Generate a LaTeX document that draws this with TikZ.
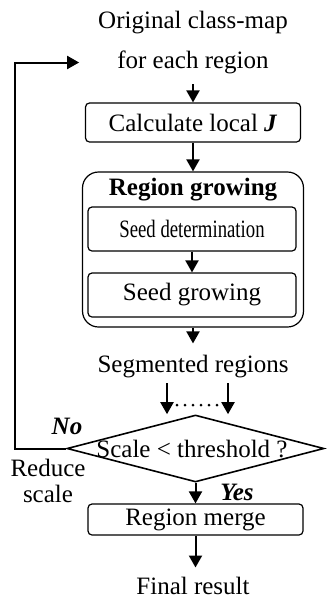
\documentclass[tikz,border=0pt]{standalone}
\usepackage{fontspec}
\setmainfont{Liberation Serif}
\usepackage{graphicx}
\usetikzlibrary{arrows.meta,positioning,shapes.geometric}

\begin{document}
\begin{tikzpicture}[
  x=1pt,y=-1pt,
  every node/.style={font=\fontsize{25}{23}\selectfont,align=center,inner sep=0pt},
  box/.style={draw,rounded corners=4pt,line width=1.2pt,minimum width=215pt,minimum height=39pt},
  group/.style={draw,rounded corners=16pt,line width=1.2pt,minimum width=221pt,minimum height=155pt},
  decision/.style={draw,diamond,line width=1.6pt,minimum width=257pt,minimum height=67pt},
  answer/.style={font=\fontsize{25}{23}\selectfont\bfseries\itshape},
  arrow/.style={-{Triangle[length=12pt,width=13pt]},line width=2pt},
  dots/.style={line width=3pt,line cap=round,dash pattern=on 0pt off 8pt}
]
\useasboundingbox (0,0) rectangle (327,598);
\node (orig) at (193,23) {Original class-map};
\node (each) at (193,62.5) {for each region};
\node[box] (calc) at (193,122.5) {Calculate local \textbf{\textit{J}}};
\node[group] (grow) at (193,249.5) {};
\node[font=\fontsize{25}{23}\selectfont\bfseries] (growtitle) at (193,190) {Region growing};
\node[box,minimum width=208pt,minimum height=44pt] (seed) at (192,229) {\scalebox{0.75}[1]{Seed determination}};
\node[box,minimum width=208pt,minimum height=44pt] (seedgrow) at (192,295) {Seed growing};
\node (seg) at (193,367) {Segmented regions};
\node[decision] (test) at (195.5,448.5) {};
\node (testtext) at (192,449) {Scale < threshold ?};
\node[answer] (no) at (67,426) {No};
\node (reduce) at (48,481) {Reduce\\[3pt]scale};
\node[answer] (yes) at (237,492) {Yes};
\node[box,minimum height=31pt] (merge) at (195.5,519.5) {Region merge};
\node (final) at (193,585.5) {Final result};
\coordinate[left=38pt of each] (back);
\coordinate (b1) at (167,383);
\coordinate (b2) at (228,383);
% main flow
\draw[arrow,shorten <=10pt] (each) -- (calc);
\draw[arrow] (calc) -- (grow);
\draw[arrow] (seed) -- (seedgrow);
\draw[arrow,shorten >=12pt] (grow) -- (seg);
\draw[arrow] (b1) -- (b1 |- test.north);
\draw[arrow] (b2) -- (b2 |- test.north);
\draw[dots] (177,405) -- (219,405);
\draw[arrow] (test) -- (merge);
\draw[arrow,shorten >=9pt] (merge.south) -- (merge.south |- final.north);
% loop back
\draw[arrow] (test.west) -- ++(-51,0) |- (back);
\end{tikzpicture}
\end{document}
